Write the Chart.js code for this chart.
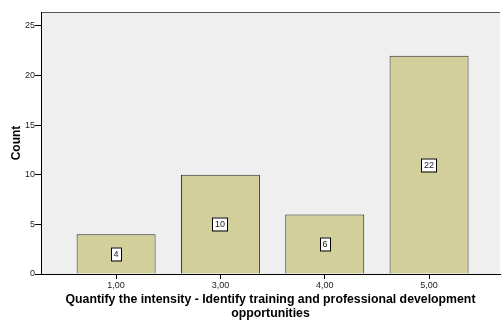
<!DOCTYPE html>
<html>
<head>
<meta charset="utf-8">
<script src="https://cdn.jsdelivr.net/npm/chart.js@4.4.1/dist/chart.umd.min.js"></script>
<style>
  html, body { margin: 0; padding: 0; background: #ffffff; }
  #wrap { width: 501px; height: 320px; position: relative; }
</style>
</head>
<body>
<div id="wrap"><canvas id="chart"></canvas></div>
<script>
// chart data
const categories = ['1,00', '3,00', '4,00', '5,00'];
const counts = [4, 10, 6, 22];
const yTicks = [0, 5, 10, 15, 20, 25];

const xTitle = ['Quantify the intensity - Identify training and professional development', 'opportunities'];
const yTitle = 'Count';

// grey plot background + top frame line
const plotBackground = {
    id: 'plotBackground',
    beforeDraw(chart) {
        const { ctx, chartArea: a } = chart;
        ctx.save();
        ctx.fillStyle = '#efefef';
        ctx.fillRect(a.left, a.top, a.right - a.left, a.bottom - a.top);
        ctx.strokeStyle = '#555555';
        ctx.lineWidth = 1;
        ctx.beginPath();
        ctx.moveTo(a.left, a.top + 0.5);
        ctx.lineTo(a.right, a.top + 0.5);
        ctx.stroke();
        ctx.restore();
    }
};

// boxed value labels in the middle of each bar
const barLabels = {
    id: 'barLabels',
    afterDatasetsDraw(chart) {
        const { ctx } = chart;
        const meta = chart.getDatasetMeta(0);
        ctx.save();
        ctx.font = '9px "Liberation Sans", Arial, sans-serif';
        ctx.textAlign = 'center';
        ctx.textBaseline = 'middle';
        meta.data.forEach((bar, i) => {
            const text = String(counts[i]);
            const cx = Math.round(bar.x);
            const cy = Math.round((bar.y + bar.base) / 2);
            const w = ctx.measureText(text).width + 5;
            const h = 13;
            ctx.fillStyle = '#ffffff';
            ctx.fillRect(cx - w / 2, cy - h / 2, w, h);
            ctx.strokeStyle = '#000000';
            ctx.lineWidth = 1;
            ctx.strokeRect(Math.round(cx - w / 2) + 0.5, cy - h / 2 + 0.5, Math.round(w), h);
            ctx.fillStyle = '#222222';
            ctx.fillText(text, cx, cy + 1);
        });
        ctx.restore();
    }
};

const ctx = document.getElementById('chart').getContext('2d');
const myChart = new Chart(ctx, {
    type: 'bar',
    data: {
        datasets: [{
            label: yTitle,
            data: counts.map((c, i) => ({ x: i, y: c })),
            backgroundColor: '#d3cf9b',
            borderColor: '#2a2a2a',
            borderWidth: 1,
            borderSkipped: 'bottom',
            categoryPercentage: 1,
            barPercentage: 0.757
        }]
    },
    options: {
        responsive: true,
        maintainAspectRatio: false,
        animation: false,
        layout: { padding: { top: 12, right: 1, left: 0, bottom: 0 } },
        plugins: {
            legend: { display: false },
            tooltip: { enabled: false }
        },
        scales: {
            x: {
                type: 'linear',
                offset: false,
                min: -0.72,
                max: 3.68,
                afterBuildTicks: (scale) => {
                    scale.ticks = categories.map((c, i) => ({ value: i }));
                },
                afterFit: (scale) => { scale.height = 46; },
                grid: { display: true, offset: false, drawOnChartArea: false, drawTicks: true, tickLength: 5, color: '#000000' },
                border: { display: true, color: '#000000', width: 1 },
                ticks: {
                    autoSkip: false,
                    maxRotation: 0,
                    padding: 1,
                    color: '#222222',
                    font: { family: '"Liberation Sans", Arial, sans-serif', size: 9 },
                    callback: (v) => categories[v]
                },
                title: {
                    display: true,
                    text: xTitle,
                    color: '#000000',
                    padding: { top: 4, bottom: 0 },
                    font: { family: '"Liberation Sans", Arial, sans-serif', size: 12.3, weight: 'bold', lineHeight: 1.08 }
                }
            },
            y: {
                min: 0,
                max: 26.4,
                afterBuildTicks: (scale) => {
                    scale.ticks = yTicks.map(v => ({ value: v }));
                },
                afterFit: (scale) => { scale.width = 41; },
                grid: { display: true, drawOnChartArea: false, drawTicks: true, tickLength: 6, color: '#000000' },
                border: { display: true, color: '#000000', width: 1 },
                ticks: {
                    padding: 0,
                    color: '#222222',
                    font: { family: '"Liberation Sans", Arial, sans-serif', size: 9 }
                },
                title: {
                    display: true,
                    text: yTitle,
                    color: '#000000',
                    padding: { top: 9, bottom: 4 },
                    font: { family: '"Liberation Sans", Arial, sans-serif', size: 12, weight: 'bold' }
                }
            }
        }
    },
    plugins: [plotBackground, barLabels]
});
</script>
</body>
</html>
